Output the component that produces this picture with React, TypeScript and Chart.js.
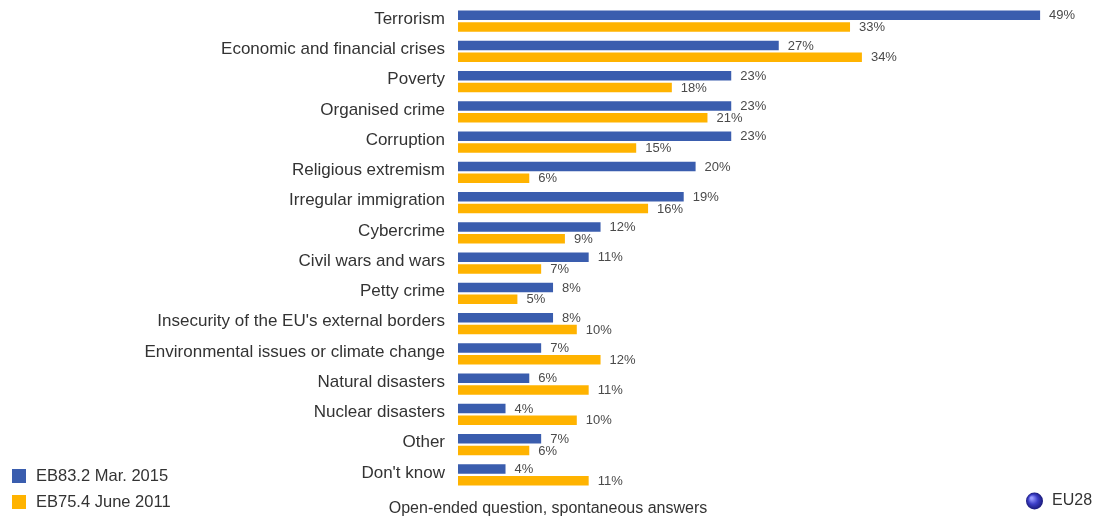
import React, { useEffect, useRef } from "react";
import { Chart, registerables } from "chart.js";

Chart.register(...registerables);

const categories = [
  "Terrorism",
  "Economic and financial crises",
  "Poverty",
  "Organised crime",
  "Corruption",
  "Religious extremism",
  "Irregular immigration",
  "Cybercrime",
  "Civil wars and wars",
  "Petty crime",
  "Insecurity of the EU's external borders",
  "Environmental issues or climate change",
  "Natural disasters",
  "Nuclear disasters",
  "Other",
  "Don't know",
];

const series2015 = [49, 27, 23, 23, 23, 20, 19, 12, 11, 8, 8, 7, 6, 4, 7, 4];
const series2011 = [33, 34, 18, 21, 15, 6, 16, 9, 7, 5, 10, 12, 11, 10, 6, 11];

const seriesNames = ["EB83.2 Mar. 2015", "EB75.4 June 2011"];
const seriesColors = ["#3a5dae", "#ffb300"];
const caption = "Open-ended question, spontaneous answers";
const regionLabel = "EU28";

const FONT = "'Liberation Sans', Arial, sans-serif";

export default function App() {
  const canvasRef = useRef<HTMLCanvasElement | null>(null);

  useEffect(() => {
    const canvas = canvasRef.current;
    if (!canvas) return;

    const overlay = {
      id: "overlay",
      afterDatasetsDraw(chart: any) {
        const ctx = chart.ctx;
        ctx.save();
        ctx.font = `13px ${FONT}`;
        ctx.fillStyle = "#4a4a4a";
        ctx.textAlign = "left";
        ctx.textBaseline = "middle";
        chart.data.datasets.forEach((ds: any, di: number) => {
          const meta = chart.getDatasetMeta(di);
          meta.data.forEach((el: any, i: number) => {
            ctx.fillText(`${ds.data[i]}%`, el.x + 9, el.y + 0.5);
          });
        });
        ctx.restore();
      },
      afterDraw(chart: any) {
        const ctx = chart.ctx;
        ctx.save();
        // legend
        const legendY = [476, 502];
        ctx.font = `16.5px ${FONT}`;
        ctx.textBaseline = "middle";
        ctx.textAlign = "left";
        seriesNames.forEach((name, i) => {
          ctx.fillStyle = seriesColors[i];
          ctx.fillRect(12, legendY[i] - 7, 14, 14);
          ctx.fillStyle = "#333333";
          ctx.fillText(name, 36, legendY[i]);
        });
        // caption
        ctx.font = `16px ${FONT}`;
        ctx.textAlign = "center";
        ctx.fillStyle = "#333333";
        ctx.fillText(caption, 548, 509);
        // globe
        const gx = 1034.5, gy = 501, r = 8.5;
        const g = ctx.createRadialGradient(gx - 3, gy - 3, 1, gx, gy, r);
        g.addColorStop(0, "#9a9cff");
        g.addColorStop(0.5, "#3d3fc8");
        g.addColorStop(1, "#1a1a7a");
        ctx.beginPath();
        ctx.arc(gx, gy, r, 0, Math.PI * 2);
        ctx.fillStyle = g;
        ctx.fill();
        ctx.textAlign = "left";
        ctx.fillStyle = "#333333";
        ctx.fillText(regionLabel, 1052, 501);
        ctx.restore();
      },
    };

    const chart = new Chart(canvas, {
      type: "bar",
      data: {
        labels: categories,
        datasets: [
          {
            label: seriesNames[0],
            data: series2015,
            backgroundColor: seriesColors[0],
            barPercentage: 0.82,
            categoryPercentage: 0.77,
          },
          {
            label: seriesNames[1],
            data: series2011,
            backgroundColor: seriesColors[1],
            barPercentage: 0.82,
            categoryPercentage: 0.77,
          },
        ],
      },
      options: {
        indexAxis: "y",
        animation: false,
        responsive: false,
        maintainAspectRatio: false,
        layout: { padding: { top: 6, bottom: 28, left: 0, right: 10 } },
        plugins: {
          legend: { display: false },
          tooltip: { enabled: false },
          title: { display: false },
        },
        scales: {
          x: {
            display: false,
            min: 0,
            max: 53.2,
          },
          y: {
            grid: { display: false, drawTicks: false },
            border: { display: false },
            ticks: {
              padding: 13,
              labelOffset: -2,
              color: "#333333",
              font: { family: FONT, size: 17 },
              autoSkip: false,
            },
            afterFit(scale: any) {
              scale.width = 458;
              scale.paddingTop = 0;
              scale.paddingBottom = 0;
            },
          },
        },
      },
      plugins: [overlay],
    } as any);

    return () => chart.destroy();
  }, []);

  return (
    <div
      style={{
        position: "absolute",
        left: 0,
        top: 0,
        width: 1100,
        height: 518,
        background: "#ffffff",
      }}
    >
      <canvas ref={canvasRef} width={1100} height={518} style={{ width: 1100, height: 518 }} />
    </div>
  );
}
